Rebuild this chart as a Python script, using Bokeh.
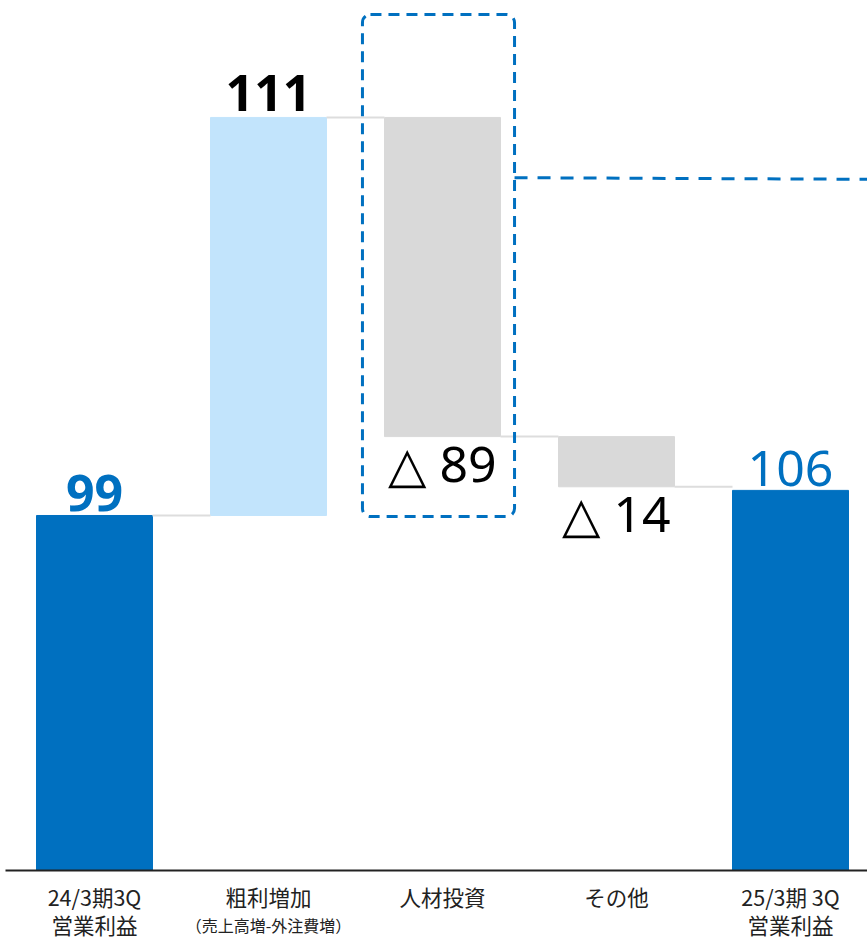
from bokeh.plotting import figure
from bokeh.models import Range1d, FixedTicker, BoxAnnotation, ColumnDataSource
from bokeh.core.properties import value
from bokeh.embed import file_html
from bokeh.resources import INLINE

categories = ["24/3期3Q\n営業利益", "粗利増加", "人材投資", "その他", "25/3期 3Q\n営業利益"]
sub_labels = ["", "（売上高増-外注費増）", "", "", ""]
values = [99, 111, -89, -14, 106]
kinds = ["total", "delta", "delta", "delta", "total"]

DARK = "#0070C0"
LIGHT = "#C2E4FC"
GREY = "#D9D9D9"

xs = list(range(len(values)))
bottoms, tops, colors, labels, label_y, offs, lcolors = [], [], [], [], [], [], []
level = 0
ends = []
for i, (v, k) in enumerate(zip(values, kinds)):
    if k == "total":
        b, t = 0, v
        level = v
        colors.append(DARK)
        labels.append(str(v))
        label_y.append(t)
        offs.append(-22)
        lcolors.append(DARK)
    else:
        b, t = level, level + v
        level = level + v
        if v >= 0:
            colors.append(LIGHT)
            labels.append(str(v))
            label_y.append(max(b, t))
            offs.append(-24)
        else:
            colors.append(GREY)
            labels.append("△ " + str(abs(v)))
            label_y.append(min(b, t))
            offs.append(26)
        lcolors.append("#000000")
    bottoms.append(min(b, t))
    tops.append(max(b, t))
    ends.append(level)

src = ColumnDataSource(dict(x=xs, bottom=bottoms, top=tops, color=colors))

W, H = 867, 940
SCALE = 3.586
AXIS_Y = 870
X0 = -94 / 174.0
p = figure(width=W, height=H, output_backend="svg", toolbar_location=None,
           x_range=Range1d(X0, X0 + W / 174.0),
           y_range=Range1d(-(H - AXIS_Y) / SCALE, AXIS_Y / SCALE),
           min_border_left=0, min_border_right=0, min_border_top=0, min_border_bottom=0)
p.outline_line_color = None
p.grid.visible = False
p.yaxis.visible = False

BW = 116 / 174.0
p.vbar(x="x", bottom="bottom", top="top", width=BW, color="color", source=src)

# connectors
cx0, cx1, cy = [], [], []
for i in range(len(values) - 1):
    cx0.append(i + BW / 2)
    cx1.append(i + 1 - BW / 2)
    cy.append(ends[i])
p.segment(x0=cx0, y0=cy, x1=cx1, y1=cy, line_color="#DDDDDD", line_width=2)

# value labels
for i in range(len(values)):
    bold = labels[i] in ("99", "111")
    p.text(x=[xs[i]], y=[label_y[i]], text=[labels[i]], text_align="center",
           text_baseline="alphabetic", y_offset=offs[i],
           text_font=value("Noto Sans"), text_font_size="50px",
           text_font_style="bold" if bold else "normal",
           text_color=lcolors[i])

# dashed highlight box around 人材投資
box = BoxAnnotation(left=2 - 0.46, right=2 + 0.414, top=238.7, bottom=98.7,
                    fill_alpha=0, line_color=DARK, line_alpha=1.0, line_width=3,
                    line_dash="11 7", border_radius=8)
p.add_layout(box)
p.segment(x0=[2 + 0.414], y0=[193.2], x1=[6], y1=[192.4], line_color=DARK,
          line_width=3, line_dash="13 10")

# axis drawn at y=0 inside the frame
p.xaxis.fixed_location = 0
p.xaxis.bounds = (X0 + 5 / 174.0, X0 + W / 174.0)
p.xaxis.ticker = FixedTicker(ticks=xs)
p.xaxis.major_label_overrides = {i: c for i, c in zip(xs, categories)}
p.xaxis.major_tick_line_color = None
p.xaxis.minor_tick_line_color = None
p.xaxis.axis_line_color = "#222222"
p.xaxis.axis_line_width = 2
p.xaxis.major_label_text_font = "Noto Sans CJK JP"
p.xaxis.major_label_text_font_size = "21.5px"
p.xaxis.major_label_text_color = "#222222"
p.xaxis.major_label_standoff = 4
p.xaxis.major_label_text_line_height = 0.92

sx = [xs[i] for i, s in enumerate(sub_labels) if s]
st = [s for s in sub_labels if s]
p.text(x=sx, y=[0] * len(sx), text=st, text_align="center", text_baseline="middle",
       y_offset=54, text_font=value("Noto Sans CJK JP"), text_font_size="16px",
       text_color="#222222")

open("out.html", "w").write(file_html(p, INLINE))
